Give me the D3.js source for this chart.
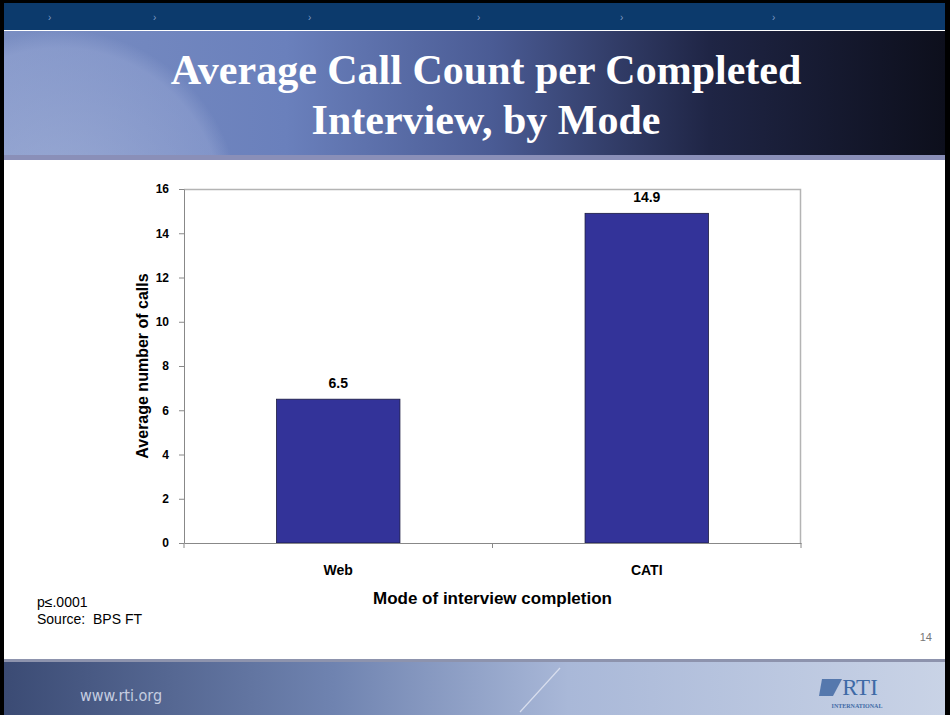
<!DOCTYPE html>
<html>
<head>
<meta charset="utf-8">
<script src="https://cdn.jsdelivr.net/npm/d3@7"></script>
<style>
  body { margin: 0; background: #000; }
  svg { display: block; }
  text { white-space: pre; }
</style>
</head>
<body>
<div class="chart"></div>
<script>
const modes = ["Web", "CATI"];
const avgCalls = [6.5, 14.9];
const yTicks = [0, 2, 4, 6, 8, 10, 12, 14, 16];
const titleLines = ["Average Call Count per Completed", "Interview, by Mode"];
const notes = ["p\u2264.0001", "Source:  BPS FT"];

function Charting() {
    const W = 950, H = 715;
    const margin = ({top: 189, right: 149, bottom: 172, left: 184});
    const width = W - margin.left - margin.right,
    height = H - margin.top - margin.bottom;

    const root = d3.select(".chart").append("svg")
    .attr("width", W)
    .attr("height", H);

    const defs = root.append("defs");

    // header gradient (light globe on left, dark on right)
    const hg = defs.append("linearGradient").attr("id", "hdr");
    hg.append("stop").attr("offset", "0%").attr("stop-color", "#7a8ec2");
    hg.append("stop").attr("offset", "30%").attr("stop-color", "#6a80bc");
    hg.append("stop").attr("offset", "52%").attr("stop-color", "#4a5b94");
    hg.append("stop").attr("offset", "75%").attr("stop-color", "#1f2545");
    hg.append("stop").attr("offset", "100%").attr("stop-color", "#0d0f1c");

    const globe = defs.append("radialGradient").attr("id", "globe")
    .attr("cx", "0.5").attr("cy", "0.5").attr("r", "0.5");
    globe.append("stop").attr("offset", "0%").attr("stop-color", "#c4cfea").attr("stop-opacity", 0.45);
    globe.append("stop").attr("offset", "90%").attr("stop-color", "#a7b5de").attr("stop-opacity", 0.35);
    globe.append("stop").attr("offset", "100%").attr("stop-color", "#a7b5de").attr("stop-opacity", 0);

    defs.append("clipPath").attr("id", "hdrclip")
    .append("rect").attr("x", 4).attr("y", 31).attr("width", W - 9).attr("height", 124);

    const fg = defs.append("linearGradient").attr("id", "ftr");
    fg.append("stop").attr("offset", "0%").attr("stop-color", "#3b4b74");
    fg.append("stop").attr("offset", "35%").attr("stop-color", "#6f83b0");
    fg.append("stop").attr("offset", "60%").attr("stop-color", "#a9b8d8");
    fg.append("stop").attr("offset", "100%").attr("stop-color", "#c9d3e6");

    // slide background
    root.append("rect").attr("x", 4).attr("y", 3).attr("width", W - 9).attr("height", H - 3).attr("fill", "#fff");

    // top nav bar
    root.append("rect").attr("x", 4).attr("y", 3).attr("width", W - 9).attr("height", 27).attr("fill", "#0c3a6c");
    [48, 153, 308, 477, 620, 772].forEach(x => {
        root.append("text").attr("x", x).attr("y", 21)
        .attr("fill", "#7f9cc6").attr("font-family", "Liberation Sans, Arial")
        .attr("font-size", 10).text("\u203A");
    });

    // header
    root.append("rect").attr("x", 4).attr("y", 31).attr("width", W - 9).attr("height", 124).attr("fill", "url(#hdr)");
    root.append("circle").attr("cx", 60).attr("cy", 210).attr("r", 180).attr("fill", "url(#globe)")
    .attr("clip-path", "url(#hdrclip)");
    root.append("rect").attr("x", 4).attr("y", 155).attr("width", W - 9).attr("height", 5).attr("fill", "#8a8fb8");

    const title = root.append("text")
    .attr("text-anchor", "middle")
    .attr("fill", "#fff")
    .attr("font-family", "Liberation Serif, Times New Roman, serif")
    .attr("font-weight", "bold")
    .attr("font-size", 42);
    titleLines.forEach((t, i) => {
        title.append("tspan").attr("x", 486).attr("y", 84 + i * 50).text(t);
    });

    // footer
    root.append("rect").attr("x", 4).attr("y", 659).attr("width", W - 9).attr("height", 3).attr("fill", "#8d93ad");
    root.append("rect").attr("x", 4).attr("y", 662).attr("width", W - 9).attr("height", 53).attr("fill", "url(#ftr)");
    root.append("line").attr("x1", 520).attr("y1", 712).attr("x2", 560).attr("y2", 668)
    .attr("stroke", "#d8deee").attr("stroke-width", 1.2);
    root.append("text").attr("x", 80).attr("y", 701)
    .attr("fill", "#c5cde0").attr("font-family", "DejaVu Sans Condensed, Liberation Sans Narrow, sans-serif")
    .attr("font-size", 16).text("www.rti.org");
    root.append("path").attr("d", "M822,679 L842,679 L833,696 L819,696 Z").attr("fill", "#5578ad");
    root.append("text").attr("x", 860).attr("y", 695).attr("text-anchor", "middle")
    .attr("fill", "#3e6aa6").attr("font-family", "Liberation Serif, serif")
    .attr("font-size", 23).text("RTI");
    root.append("text").attr("x", 857).attr("y", 708).attr("text-anchor", "middle")
    .attr("fill", "#3e6aa6").attr("font-family", "Liberation Serif, serif")
    .attr("font-size", 6).attr("font-weight", "bold").text("INTERNATIONAL");

    // page number
    root.append("text").attr("x", 932).attr("y", 641).attr("text-anchor", "end")
    .attr("fill", "#777").attr("font-family", "Liberation Sans, Arial").attr("font-size", 11).text("14");

    // notes
    notes.forEach((t, i) => {
        root.append("text").attr("x", 37).attr("y", 607 + i * 17)
        .attr("fill", "#000").attr("font-family", "Liberation Sans, Arial").attr("font-size", 14).text(t);
    });

    // chart
    const svg = root.append("g")
    .attr("transform", "translate(" + margin.left + "," + margin.top + ")");

    const xScale = d3.scaleBand()
    .domain(modes)
    .range([0, width])
    .paddingInner(0.6)
    .paddingOuter(0.3);

    const yScale = d3.scaleLinear()
    .domain([0, 16])
    .range([height, 0]);

    // plot border (top and right)
    svg.append("path")
    .attr("d", `M0,0.5 H${width - 0.5} V${height}`)
    .attr("fill", "none")
    .attr("stroke", "#b4b4b4")
    .attr("stroke-width", 1.5);

    svg.selectAll(".bar")
    .data(modes)
    .enter()
    .append("rect")
    .attr("class", "bar")
    .attr("x", d => xScale(d))
    .attr("y", (d, i) => yScale(avgCalls[i]))
    .attr("width", xScale.bandwidth())
    .attr("height", (d, i) => height - yScale(avgCalls[i]))
    .attr("fill", "#333399")
    .attr("stroke", "#1a1a40")
    .attr("stroke-width", 0.8);

    svg.selectAll(".val")
    .data(modes)
    .enter()
    .append("text")
    .attr("class", "val")
    .attr("x", d => xScale(d) + xScale.bandwidth() / 2)
    .attr("y", (d, i) => yScale(avgCalls[i]) - 11)
    .attr("text-anchor", "middle")
    .attr("font-family", "Liberation Sans, Arial")
    .attr("font-weight", "bold")
    .attr("font-size", 14)
    .text((d, i) => avgCalls[i].toFixed(1));

    const yAxis = d3.axisLeft()
    .scale(yScale)
    .tickValues(yTicks)
    .tickSize(5)
    .tickSizeOuter(0)
    .tickPadding(10);

    const yg = svg.append("g")
    .attr("class", "axis y-axis")
    .call(yAxis);
    yg.select(".domain").attr("stroke", "#888");
    yg.selectAll(".tick line").attr("stroke", "#888");
    yg.selectAll("text")
    .attr("font-family", "Liberation Sans, Arial")
    .attr("font-weight", "bold")
    .attr("font-size", 12)
    .attr("fill", "#000");

    const xAxis = d3.axisBottom()
    .scale(xScale)
    .tickSize(0)
    .tickSizeOuter(0)
    .tickPadding(22);

    const xg = svg.append("g")
    .attr("class", "axis x-axis")
    .attr("transform", `translate(0, ${height})`)
    .call(xAxis);
    xg.select(".domain").attr("stroke", "#888");
    xg.selectAll("text")
    .attr("font-family", "Liberation Sans, Arial")
    .attr("font-weight", "bold")
    .attr("font-size", 14)
    .attr("fill", "#000");

    // category separators on the x axis
    const seps = [0, width / 2, width];
    svg.selectAll(".sep")
    .data(seps)
    .enter()
    .append("line")
    .attr("class", "sep")
    .attr("x1", d => d).attr("x2", d => d)
    .attr("y1", height).attr("y2", height + 5)
    .attr("stroke", "#888");

    svg.append("text")
    .attr("x", width / 2)
    .attr("y", height + 61)
    .attr("text-anchor", "middle")
    .attr("font-family", "Liberation Sans, Arial")
    .attr("font-weight", "bold")
    .attr("font-size", 17)
    .text("Mode of interview completion");

    svg.append("text")
    .attr("transform", `translate(-36, ${height / 2}) rotate(-90)`)
    .attr("text-anchor", "middle")
    .attr("font-family", "Liberation Sans, Arial")
    .attr("font-weight", "bold")
    .attr("font-size", 16)
    .text("Average number of calls");
}

Charting()
</script>
</body>
</html>
